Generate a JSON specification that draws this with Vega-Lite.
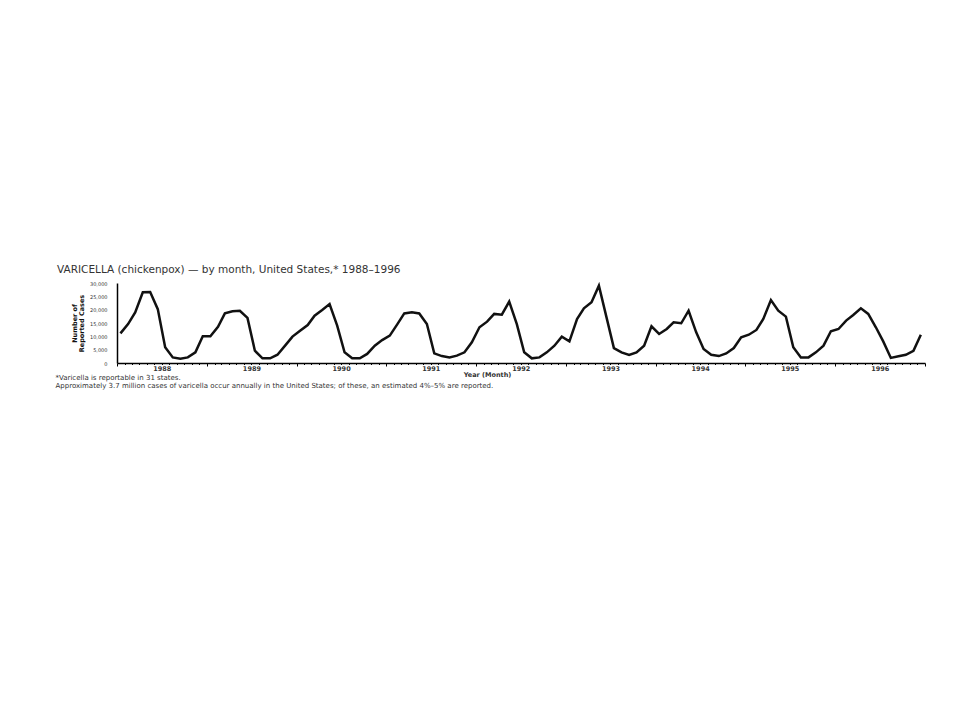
{
  "$schema": "https://vega.github.io/schema/vega-lite/v6.json",
  "autosize": {"type": "none"},
  "padding": {"left": 117, "top": 283, "right": 35, "bottom": 358},
  "width": 808,
  "height": 80,
  "background": "white",
  "config": {"view": {"stroke": null}, "font": "DejaVu Sans"},
  "title": {
    "text": "VARICELLA (chickenpox) — by month, United States,* 1988–1996",
    "anchor": "start",
    "frame": "group",
    "dx": -60,
    "offset": 5,
    "fontSize": 10.5,
    "fontWeight": "normal",
    "color": "#333333"
  },
  "data": {"values": [
    {"date": "1988-01-15", "cases": 11100}, {"date": "1988-02-15", "cases": 14600}, {"date": "1988-03-15", "cases": 19000}, {"date": "1988-04-15", "cases": 26500}, {"date": "1988-05-15", "cases": 26600}, {"date": "1988-06-15", "cases": 20200}, {"date": "1988-07-15", "cases": 5900}, {"date": "1988-08-15", "cases": 2100}, {"date": "1988-09-15", "cases": 1600}, {"date": "1988-10-15", "cases": 2100}, {"date": "1988-11-15", "cases": 4000}, {"date": "1988-12-15", "cases": 10000},
    {"date": "1989-01-15", "cases": 10000}, {"date": "1989-02-15", "cases": 13600}, {"date": "1989-03-15", "cases": 18600}, {"date": "1989-04-15", "cases": 19400}, {"date": "1989-05-15", "cases": 19600}, {"date": "1989-06-15", "cases": 16900}, {"date": "1989-07-15", "cases": 4600}, {"date": "1989-08-15", "cases": 1750}, {"date": "1989-09-15", "cases": 1750}, {"date": "1989-10-15", "cases": 3100}, {"date": "1989-11-15", "cases": 6500}, {"date": "1989-12-15", "cases": 9900},
    {"date": "1990-01-15", "cases": 12100}, {"date": "1990-02-15", "cases": 14250}, {"date": "1990-03-15", "cases": 17750}, {"date": "1990-04-15", "cases": 19900}, {"date": "1990-05-15", "cases": 22100}, {"date": "1990-06-15", "cases": 14000}, {"date": "1990-07-15", "cases": 4000}, {"date": "1990-08-15", "cases": 1750}, {"date": "1990-09-15", "cases": 1750}, {"date": "1990-10-15", "cases": 3400}, {"date": "1990-11-15", "cases": 6500}, {"date": "1990-12-15", "cases": 8600},
    {"date": "1991-01-15", "cases": 10250}, {"date": "1991-02-15", "cases": 14600}, {"date": "1991-03-15", "cases": 18600}, {"date": "1991-04-15", "cases": 19000}, {"date": "1991-05-15", "cases": 18600}, {"date": "1991-06-15", "cases": 14600}, {"date": "1991-07-15", "cases": 3600}, {"date": "1991-08-15", "cases": 2600}, {"date": "1991-09-15", "cases": 2100}, {"date": "1991-10-15", "cases": 2750}, {"date": "1991-11-15", "cases": 4000}, {"date": "1991-12-15", "cases": 7750},
    {"date": "1992-01-15", "cases": 13400}, {"date": "1992-02-15", "cases": 15500}, {"date": "1992-03-15", "cases": 18400}, {"date": "1992-04-15", "cases": 18100}, {"date": "1992-05-15", "cases": 23000}, {"date": "1992-06-15", "cases": 14600}, {"date": "1992-07-15", "cases": 4000}, {"date": "1992-08-15", "cases": 1750}, {"date": "1992-09-15", "cases": 2100}, {"date": "1992-10-15", "cases": 4000}, {"date": "1992-11-15", "cases": 6500}, {"date": "1992-12-15", "cases": 9900},
    {"date": "1993-01-15", "cases": 8100}, {"date": "1993-02-15", "cases": 16500}, {"date": "1993-03-15", "cases": 20500}, {"date": "1993-04-15", "cases": 22750}, {"date": "1993-05-15", "cases": 29000}, {"date": "1993-06-15", "cases": 17100}, {"date": "1993-07-15", "cases": 5600}, {"date": "1993-08-15", "cases": 4000}, {"date": "1993-09-15", "cases": 3000}, {"date": "1993-10-15", "cases": 4000}, {"date": "1993-11-15", "cases": 6500}, {"date": "1993-12-15", "cases": 13750},
    {"date": "1994-01-15", "cases": 10900}, {"date": "1994-02-15", "cases": 12750}, {"date": "1994-03-15", "cases": 15250}, {"date": "1994-04-15", "cases": 14900}, {"date": "1994-05-15", "cases": 19600}, {"date": "1994-06-15", "cases": 11500}, {"date": "1994-07-15", "cases": 5250}, {"date": "1994-08-15", "cases": 3100}, {"date": "1994-09-15", "cases": 2600}, {"date": "1994-10-15", "cases": 3600}, {"date": "1994-11-15", "cases": 5600}, {"date": "1994-12-15", "cases": 9600},
    {"date": "1995-01-15", "cases": 10600}, {"date": "1995-02-15", "cases": 12400}, {"date": "1995-03-15", "cases": 16500}, {"date": "1995-04-15", "cases": 23600}, {"date": "1995-05-15", "cases": 19600}, {"date": "1995-06-15", "cases": 17400}, {"date": "1995-07-15", "cases": 5900}, {"date": "1995-08-15", "cases": 2100}, {"date": "1995-09-15", "cases": 2100}, {"date": "1995-10-15", "cases": 4000}, {"date": "1995-11-15", "cases": 6500}, {"date": "1995-12-15", "cases": 11900},
    {"date": "1996-01-15", "cases": 12750}, {"date": "1996-02-15", "cases": 15900}, {"date": "1996-03-15", "cases": 18000}, {"date": "1996-04-15", "cases": 20500}, {"date": "1996-05-15", "cases": 18400}, {"date": "1996-06-15", "cases": 13400}, {"date": "1996-07-15", "cases": 8100}, {"date": "1996-08-15", "cases": 1900}, {"date": "1996-09-15", "cases": 2500}, {"date": "1996-10-15", "cases": 3100}, {"date": "1996-11-15", "cases": 4600}, {"date": "1996-12-15", "cases": 10600}
  ]},
  "encoding": {
    "y": {
      "field": "cases",
      "type": "quantitative",
      "scale": {"domain": [0, 30000], "nice": false},
      "axis": {
        "values": [0, 5000, 10000, 15000, 20000, 25000, 30000],
        "format": ",d",
        "grid": false,
        "ticks": false,
        "labelPadding": 10,
        "labelFontSize": 5,
        "labelColor": "#333333",
        "domainColor": "#000000",
        "domainWidth": 1.5,
        "title": ["Number of", "Reported Cases"],
        "titleFontSize": 6.5,
        "titleFontWeight": "bold",
        "titleColor": "#111111",
        "titleX": -43,
        "titleY": 40,
        "titleAngle": 270,
        "titleAlign": "center",
        "titleBaseline": "middle",
        "titleLineHeight": 7
      }
    }
  },
  "layer": [
    {
      "mark": {"type": "line", "color": "#111111", "strokeWidth": 2.5, "strokeJoin": "miter"},
      "encoding": {
        "x": {
          "field": "date",
          "type": "temporal",
          "scale": {"type": "utc", "domain": ["1988-01-01", "1997-01-01"]},
          "axis": {
            "tickCount": {"interval": "month", "step": 1},
            "labelExpr": "utcmonth(datum.value) == 6 ? utcFormat(datum.value, '%Y') : ''",
            "labelFlush": false,
            "labelOverlap": false,
            "labelAlign": "center",
            "labelFontSize": 6.5,
            "labelFontWeight": "bold",
            "labelColor": "#333333",
            "labelPadding": 1,
            "grid": false,
            "tickSize": {"condition": {"test": "utcmonth(datum.value) == 0", "value": 3}, "value": 1.5},
            "tickColor": "#000000",
            "domainColor": "#000000",
            "domainWidth": 1.5,
            "title": "Year (Month)",
            "titleFontSize": 6.5,
            "titleFontWeight": "bold",
            "titleColor": "#333333",
            "titleX": 370,
            "titleY": 13,
            "titleAlign": "center",
            "titleBaseline": "alphabetic"
          }
        }
      }
    },
    {
      "mark": {"type": "line", "opacity": 0},
      "encoding": {
        "x": {
          "field": "date",
          "type": "temporal",
          "scale": {"type": "utc", "domain": ["1988-01-01", "1997-01-01"]},
          "axis": {
            "orient": "bottom",
            "labels": false,
            "ticks": false,
            "domain": false,
            "grid": false,
            "title": [
              "*Varicella is reportable in 31 states.",
              "Approximately 3.7 million cases of varicella occur annually in the United States; of these, an estimated 4%–5% are reported."
            ],
            "titleFontSize": 7,
            "titleFontWeight": "normal",
            "titleColor": "#333333",
            "titleX": -62,
            "titleY": 16,
            "titleAlign": "left",
            "titleAnchor": "start",
            "titleBaseline": "alphabetic",
            "titleLineHeight": 8.5
          }
        }
      }
    }
  ],
  "resolve": {"scale": {"x": "independent"}}
}
